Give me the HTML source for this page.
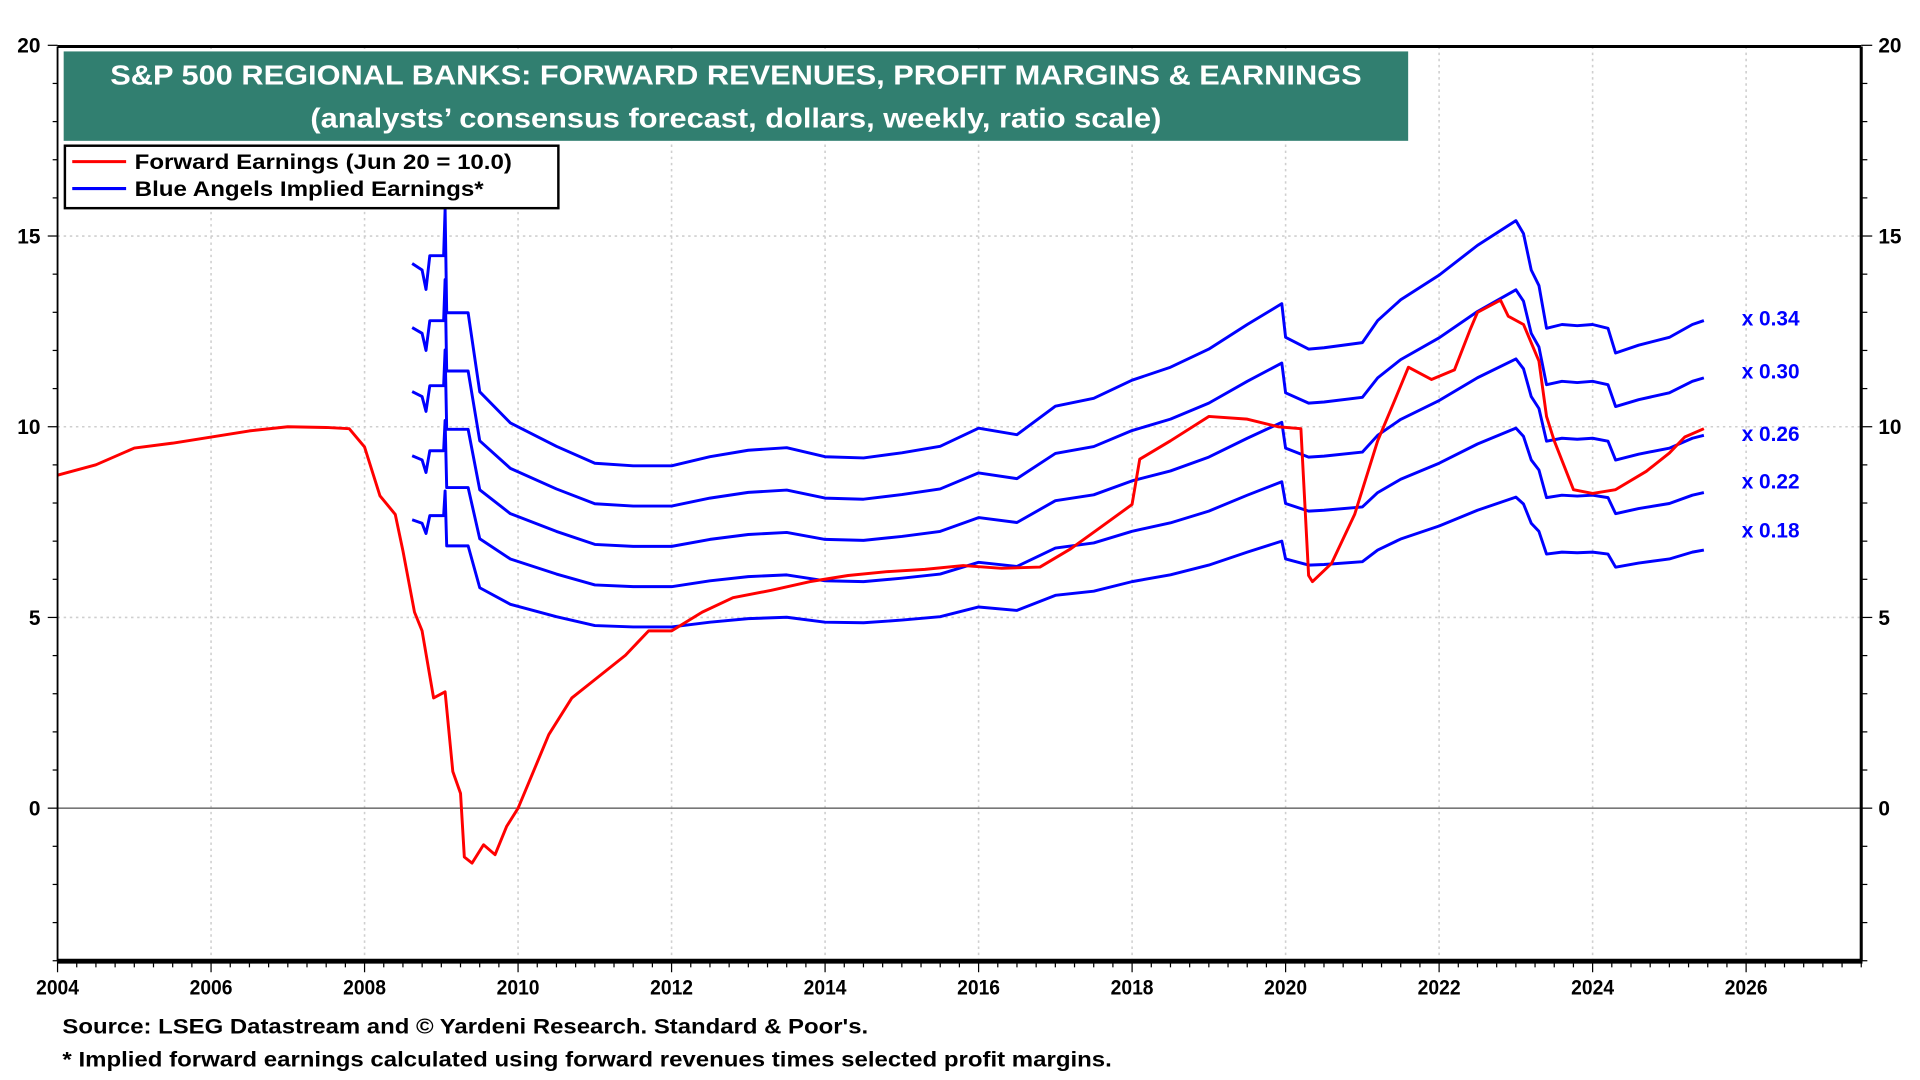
<!DOCTYPE html>
<html><head><meta charset="utf-8"><style>html,body{margin:0;padding:0;background:#fff;}svg{display:block;}text{font-family:"Liberation Sans",sans-serif;font-weight:bold;}</style></head>
<body>
<svg id="chart" width="1920" height="1080" viewBox="0 0 1568 882" preserveAspectRatio="none" xmlns="http://www.w3.org/2000/svg">
<g id="grid"></g>
<g id="series"></g>
<g id="axes"></g>
<rect x="52" y="42" width="1098" height="73" fill="#317f70"/>
<text x="601" y="69" fill="#fff" font-size="23" text-anchor="middle" textLength="1022" lengthAdjust="spacingAndGlyphs">S&amp;P 500 REGIONAL BANKS: FORWARD REVENUES, PROFIT MARGINS &amp; EARNINGS</text>
<text x="601" y="104" fill="#fff" font-size="23" text-anchor="middle" textLength="695" lengthAdjust="spacingAndGlyphs">(analysts’ consensus forecast, dollars, weekly, ratio scale)</text>
<g>
<rect x="53" y="119" width="403" height="51" fill="#fff" stroke="#000" stroke-width="2"/>
<line x1="59" y1="132" x2="103" y2="132" stroke="#f00" stroke-width="2.5"/>
<text x="110" y="138" font-size="17" textLength="308" lengthAdjust="spacingAndGlyphs">Forward Earnings (Jun 20 = 10.0)</text>
<line x1="59" y1="154" x2="103" y2="154" stroke="#00f" stroke-width="2.5"/>
<text x="110" y="160" font-size="17" textLength="285" lengthAdjust="spacingAndGlyphs">Blue Angels Implied Earnings*</text>
</g>
<g id="mlabels"></g>
<text x="51" y="844" font-size="17" textLength="658" lengthAdjust="spacingAndGlyphs">Source: LSEG Datastream and © Yardeni Research. Standard &amp; Poor's.</text>
<text x="51" y="871" font-size="17" textLength="857" lengthAdjust="spacingAndGlyphs">* Implied forward earnings calculated using forward revenues times selected profit margins.</text>
</svg>
<script>
const xTicks=[2004,2006,2008,2010,2012,2014,2016,2018,2020,2022,2024,2026];
const yTicks=[0,5,10,15,20];
const margins=[0.34,0.30,0.26,0.22,0.18];
const marginLabels=["x 0.34","x 0.30","x 0.26","x 0.22","x 0.18"];
const revDates=[2008.62,2008.75,2008.8,2008.85,2009.03,2009.05,2009.07,2009.1,2009.35,2009.5,2009.9,2010.5,2011,2011.5,2012,2012.5,2013,2013.5,2014,2014.5,2015,2015.5,2016,2016.5,2017,2017.5,2018,2018.5,2019,2019.5,2019.95,2020.0,2020.3,2020.5,2021,2021.2,2021.5,2022,2022.5,2023.0,2023.1,2023.2,2023.3,2023.4,2023.6,2023.8,2024.0,2024.2,2024.3,2024.6,2025.0,2025.3,2025.45];
const revenues=[42.0,41.5,40.0,42.6,42.6,46.2,38.2,38.2,38.2,32.1,29.7,27.9,26.6,26.4,26.4,27.1,27.6,27.8,27.1,27.0,27.4,27.9,29.3,28.8,31.0,31.6,33.0,34.0,35.4,37.3,38.9,36.3,35.4,35.5,35.9,37.6,39.2,41.1,43.4,45.3,44.3,41.5,40.3,37.0,37.3,37.2,37.3,37.0,35.1,35.7,36.3,37.3,37.6];
const fwdDates=[2004,2004.5,2005,2005.5,2006,2006.5,2007,2007.5,2007.8,2008.0,2008.2,2008.4,2008.5,2008.65,2008.75,2008.9,2009.05,2009.15,2009.25,2009.3,2009.4,2009.55,2009.7,2009.85,2010.0,2010.2,2010.4,2010.7,2011.0,2011.4,2011.7,2012.0,2012.4,2012.8,2013.3,2013.8,2014.3,2014.8,2015.3,2015.8,2016.3,2016.8,2017.2,2017.6,2018.0,2018.1,2018.5,2019.0,2019.5,2019.9,2020.2,2020.3,2020.35,2020.6,2020.9,2021.2,2021.4,2021.6,2021.9,2022.2,2022.4,2022.5,2022.8,2022.9,2023.1,2023.3,2023.4,2023.5,2023.75,2024.0,2024.3,2024.7,2025.0,2025.2,2025.45];
const fwdEarnings=[8.73,9.0,9.44,9.57,9.73,9.89,10.0,9.98,9.95,9.47,8.19,7.7,6.74,5.14,4.65,2.89,3.05,0.96,0.39,-1.28,-1.44,-0.96,-1.22,-0.48,0,0.96,1.93,2.89,3.37,4.01,4.65,4.65,5.14,5.52,5.71,5.94,6.1,6.2,6.26,6.36,6.29,6.32,6.8,7.38,7.96,9.15,9.63,10.27,10.2,10.0,9.95,6.1,5.94,6.42,7.7,9.63,10.59,11.56,11.24,11.49,12.52,13.0,13.32,12.9,12.68,11.72,10.27,9.63,8.35,8.25,8.35,8.83,9.31,9.73,9.95];

const NS="http://www.w3.org/2000/svg";
const L=47,R=1520,T=38,B=785;
const X=t=>47+(t-2004)*(1426-47)/22;
const Y=v=>660-v*(660-37)/20;
function mk(tag,attrs,parent){const e=document.createElementNS(NS,tag);for(const k in attrs)e.setAttribute(k,attrs[k]);parent.appendChild(e);return e;}
const grid=document.getElementById('grid'),axes=document.getElementById('axes'),series=document.getElementById('series'),ml=document.getElementById('mlabels');
xTicks.forEach(t=>{if(t===2004)return;const g=mk('line',{x1:X(t),x2:X(t),y1:T,y2:B,stroke:'#cfcfcf','stroke-width':1.3,'stroke-dasharray':'2,3'},grid);

});
yTicks.forEach(v=>{if(v===0||v===20)return;const g=mk('line',{x1:L,x2:R,y1:Y(v),y2:Y(v),stroke:'#cfcfcf','stroke-width':1.3,'stroke-dasharray':'2,3'},grid);

});
const zl=mk('line',{x1:L,x2:R,y1:Y(0),y2:Y(0),stroke:'#777','stroke-width':1.3},grid);


margins.forEach((m,i)=>{const pts=revDates.map((d,j)=>X(d).toFixed(1)+','+Y(revenues[j]*m).toFixed(1)).join(' ');
const p=mk('polyline',{points:pts,fill:'none',stroke:'#0000ff','stroke-width':2.4,'stroke-linejoin':'round'},series);


const lt=mk('text',{x:1446,y:Y(revenues[revenues.length-1]*m)+7,'font-size':17,fill:'#0000ff','text-anchor':'middle'},ml);
lt.textContent=marginLabels[i];

});
const lbls=ml.querySelectorAll('text');const ly=[266,309,360,399,439];lbls.forEach((t,i)=>t.setAttribute('y',ly[i]));
const fp=mk('polyline',{points:fwdDates.map((d,j)=>X(d).toFixed(1)+','+Y(fwdEarnings[j]).toFixed(1)).join(' '),fill:'none',stroke:'#ff0000','stroke-width':2.4,'stroke-linejoin':'round'},series);


mk('line',{x1:L,x2:L,y1:T,y2:B,stroke:'#000','stroke-width':1.5},axes);
mk('line',{x1:L,x2:R,y1:T,y2:T,stroke:'#000','stroke-width':2.5},axes);
mk('line',{x1:R,x2:R,y1:T,y2:B,stroke:'#000','stroke-width':2.5},axes);
mk('line',{x1:L,x2:R+1,y1:B,y2:B,stroke:'#000','stroke-width':4},axes);
for(let v=-4;v<=20;v++){const major=v%5===0;
mk('line',{x1:L-(major?8:4),x2:L,y1:Y(v),y2:Y(v),stroke:'#000','stroke-width':1},axes);
mk('line',{x1:R,x2:R+(major?9:5),y1:Y(v),y2:Y(v),stroke:'#000','stroke-width':1},axes);}
yTicks.forEach(v=>{const a=mk('text',{x:33,y:Y(v)+6,'font-size':17,'text-anchor':'end'},axes);a.textContent=v;


const b=mk('text',{x:1534,y:Y(v)+6,'font-size':17},axes);b.textContent=v;

});
for(let t=2004;t<=2027.5;t+=0.25){const major=Math.abs(t%2)<1e-6;mk('line',{x1:X(t),x2:X(t),y1:B,y2:B+(major?9:5),stroke:'#000','stroke-width':1},axes);}
xTicks.forEach(t=>{const a=mk('text',{x:X(t),y:812,'font-size':17,'text-anchor':'middle',textLength:35,lengthAdjust:'spacingAndGlyphs'},axes);a.textContent=t;

});
</script>
</body></html>
